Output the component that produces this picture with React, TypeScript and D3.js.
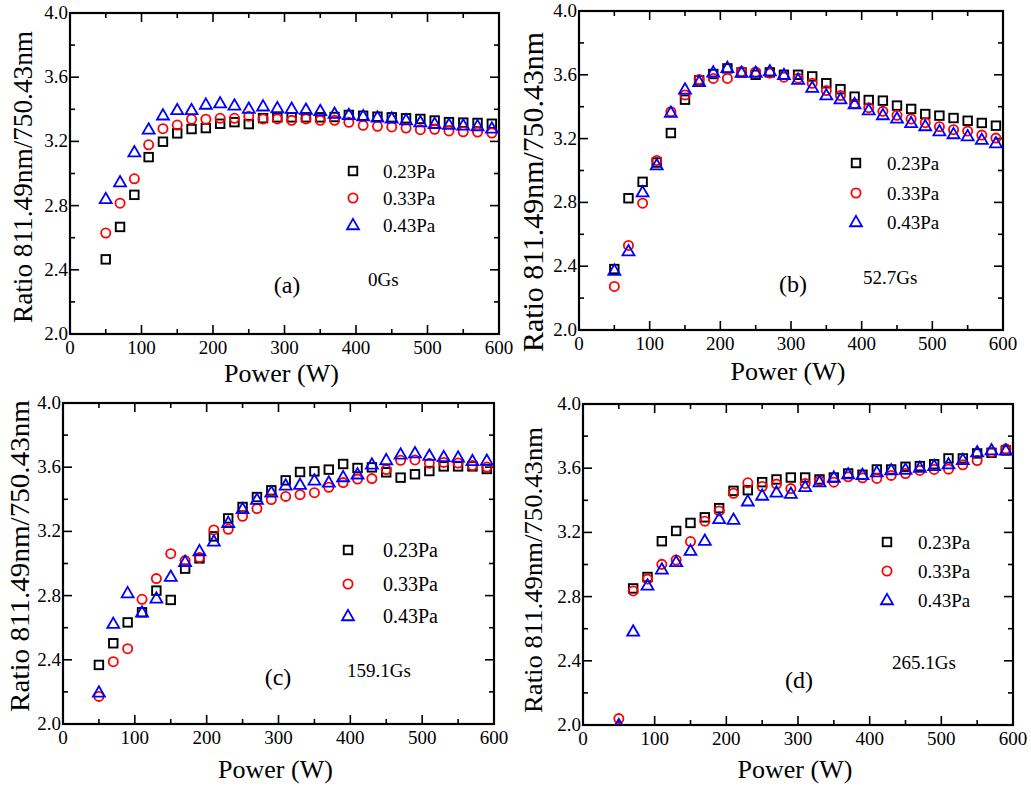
import React from "react";
import * as d3 from "d3";

const power = [50, 70, 90, 110, 130, 150, 170, 190, 210, 230, 250, 270, 290, 310, 330, 350, 370, 390, 410, 430, 450, 470, 490, 510, 530, 550, 570, 590];
const seriesNames = ["0.23Pa", "0.33Pa", "0.43Pa"];
const yTickLabels = ["2.0", "2.4", "2.8", "3.2", "3.6", "4.0"];
const xTickLabels = ["0", "100", "200", "300", "400", "500", "600"];

// Panel (a) 0Gs
const a023 = [2.465, 2.667, 2.867, 3.102, 3.198, 3.25, 3.277, 3.283, 3.31, 3.32, 3.308, 3.345, 3.35, 3.35, 3.35, 3.35, 3.352, 3.365, 3.36, 3.354, 3.35, 3.344, 3.34, 3.33, 3.32, 3.317, 3.315, 3.31];
const a033 = [2.629, 2.815, 2.967, 3.179, 3.279, 3.302, 3.338, 3.338, 3.344, 3.344, 3.356, 3.34, 3.34, 3.331, 3.34, 3.331, 3.331, 3.319, 3.3, 3.294, 3.29, 3.283, 3.273, 3.275, 3.265, 3.26, 3.258, 3.252];
const a043 = [2.842, 2.946, 3.133, 3.275, 3.363, 3.396, 3.396, 3.43, 3.438, 3.425, 3.404, 3.419, 3.408, 3.404, 3.398, 3.39, 3.373, 3.365, 3.358, 3.35, 3.344, 3.333, 3.32, 3.31, 3.304, 3.3, 3.296, 3.281];

// Panel (b) 52.7Gs
const b023 = [2.382, 2.826, 2.929, 3.05, 3.235, 3.444, 3.565, 3.605, 3.64, 3.615, 3.6, 3.615, 3.6, 3.6, 3.59, 3.547, 3.51, 3.463, 3.442, 3.438, 3.407, 3.386, 3.354, 3.344, 3.329, 3.312, 3.298, 3.281];
const b033 = [2.273, 2.53, 2.795, 3.063, 3.369, 3.474, 3.57, 3.577, 3.577, 3.62, 3.618, 3.61, 3.585, 3.579, 3.547, 3.501, 3.47, 3.419, 3.394, 3.371, 3.346, 3.323, 3.3, 3.275, 3.256, 3.247, 3.222, 3.203];
const b043 = [2.373, 2.495, 2.864, 3.034, 3.363, 3.509, 3.556, 3.616, 3.644, 3.614, 3.614, 3.623, 3.6, 3.57, 3.52, 3.472, 3.447, 3.417, 3.379, 3.348, 3.327, 3.298, 3.279, 3.247, 3.229, 3.216, 3.193, 3.172];

// Panel (c) 159.1Gs
const c023 = [2.368, 2.503, 2.633, 2.696, 2.831, 2.773, 2.968, 3.032, 3.169, 3.281, 3.352, 3.414, 3.456, 3.518, 3.57, 3.574, 3.585, 3.62, 3.595, 3.599, 3.568, 3.535, 3.556, 3.576, 3.605, 3.605, 3.605, 3.589];
const c033 = [2.172, 2.388, 2.469, 2.777, 2.906, 3.061, 3.018, 3.038, 3.209, 3.213, 3.294, 3.342, 3.398, 3.418, 3.429, 3.441, 3.475, 3.504, 3.526, 3.529, 3.585, 3.643, 3.645, 3.624, 3.63, 3.626, 3.61, 3.601];
const c043 = [2.197, 2.625, 2.816, 2.696, 2.783, 2.918, 3.011, 3.078, 3.138, 3.254, 3.34, 3.398, 3.443, 3.487, 3.491, 3.518, 3.506, 3.539, 3.556, 3.618, 3.645, 3.68, 3.688, 3.672, 3.664, 3.661, 3.639, 3.641];

// Panel (d) 265.1Gs
const d023 = [null, 2.851, 2.922, 3.145, 3.209, 3.259, 3.294, 3.351, 3.459, 3.463, 3.513, 3.53, 3.542, 3.542, 3.53, 3.542, 3.567, 3.559, 3.592, 3.592, 3.609, 3.613, 3.625, 3.661, 3.661, 3.692, 3.696, 3.711];
const d033 = [2.04, 2.835, 2.909, 3.001, 3.028, 3.143, 3.27, 3.334, 3.444, 3.509, 3.486, 3.501, 3.473, 3.505, 3.521, 3.513, 3.546, 3.54, 3.536, 3.555, 3.567, 3.586, 3.592, 3.594, 3.621, 3.648, 3.7, 3.721];
const d043 = [2.0, 2.583, 2.87, 2.97, 3.016, 3.086, 3.149, 3.284, 3.28, 3.394, 3.43, 3.45, 3.442, 3.484, 3.513, 3.542, 3.563, 3.559, 3.575, 3.588, 3.592, 3.603, 3.615, 3.625, 3.652, 3.7, 3.713, 3.711];

const FONT = "Times New Roman, Liberation Serif, Times, serif";

type Panel = {
  id: string;
  letter: string;
  field: string;
  data: (number | null)[][];
  left: number; right: number; top: number; bottom: number;
  ylab: { x: number; y: number; len: number; size: number };
  xlabY: number;
  legend: { mx: number; tx: number; ys: number[]; size: number };
  letterPos: { x: number; y: number };
  fieldPos: { x: number; y: number };
};

const panels: Panel[] = [
  {
    id: "a", letter: "(a)", field: "0Gs", data: [a023, a033, a043],
    left: 70, right: 499, top: 13, bottom: 334,
    ylab: { x: 23, y: 177, len: 292, size: 27 }, xlabY: 382,
    legend: { mx: 353, tx: 383, ys: [171, 198, 225], size: 19 },
    letterPos: { x: 287, y: 293 }, fieldPos: { x: 368, y: 286 },
  },
  {
    id: "b", letter: "(b)", field: "52.7Gs", data: [b023, b033, b043],
    left: 579, right: 1003, top: 11, bottom: 330,
    ylab: { x: 533, y: 192, len: 320, size: 29 }, xlabY: 380,
    legend: { mx: 856, tx: 887, ys: [163, 193, 222], size: 19 },
    letterPos: { x: 793, y: 292 }, fieldPos: { x: 863, y: 284 },
  },
  {
    id: "c", letter: "(c)", field: "159.1Gs", data: [c023, c033, c043],
    left: 63, right: 494, top: 403, bottom: 724,
    ylab: { x: 20, y: 556, len: 312, size: 28 }, xlabY: 778,
    legend: { mx: 348, tx: 383, ys: [550, 584, 616], size: 20 },
    letterPos: { x: 278, y: 685 }, fieldPos: { x: 347, y: 677 },
  },
  {
    id: "d", letter: "(d)", field: "265.1Gs", data: [d023, d033, d043],
    left: 583, right: 1013, top: 404, bottom: 725,
    ylab: { x: 533, y: 570, len: 286, size: 26 }, xlabY: 778,
    legend: { mx: 887, tx: 918, ys: [542, 571, 600], size: 19 },
    letterPos: { x: 799, y: 688 }, fieldPos: { x: 892, y: 669 },
  },
];

const colors = ["#000000", "#ff0000", "#0000ff"];

function Marker({ kind, x, y }: { kind: number; x: number; y: number }) {
  if (kind === 0) {
    const s = 8.5;
    return <rect x={x - s / 2} y={y - s / 2} width={s} height={s} fill="none" stroke={colors[0]} strokeWidth={1.9} />;
  }
  if (kind === 1) {
    return <circle cx={x} cy={y} r={4.6} fill="none" stroke={colors[1]} strokeWidth={1.8} />;
  }
  const tri = d3.symbol().type(d3.symbolTriangle).size(62)();
  return <path d={tri || ""} transform={`translate(${x},${y + 0.8})`} fill="none" stroke={colors[2]} strokeWidth={1.8} />;
}

function PanelView({ p }: { p: Panel }) {
  const x = d3.scaleLinear().domain([0, 600]).range([p.left, p.right]);
  const y = d3.scaleLinear().domain([2, 4]).range([p.bottom, p.top]);
  const xMajor = d3.range(0, 601, 100);
  const xMinor = d3.range(50, 600, 100);
  const yMajor = yTickLabels.map(Number);
  const yMinor = d3.range(2.2, 4, 0.4);
  const MAJ = 9, MIN = 5;
  const clipId = `clip-${p.id}`;
  const txt = { fontFamily: FONT } as React.CSSProperties;
  return (
    <g>
      <defs>
        <clipPath id={clipId}>
          <rect x={p.left} y={p.top} width={p.right - p.left} height={p.bottom - p.top} />
        </clipPath>
      </defs>
      <g stroke="#000" strokeWidth={1.6}>
        {xMajor.map((v) => (
          <g key={`xM${v}`}>
            <line x1={x(v)} x2={x(v)} y1={p.bottom} y2={p.bottom - MAJ} />
            <line x1={x(v)} x2={x(v)} y1={p.top} y2={p.top + MAJ} />
          </g>
        ))}
        {xMinor.map((v) => (
          <g key={`xm${v}`}>
            <line x1={x(v)} x2={x(v)} y1={p.bottom} y2={p.bottom - MIN} />
            <line x1={x(v)} x2={x(v)} y1={p.top} y2={p.top + MIN} />
          </g>
        ))}
        {yMajor.map((v) => (
          <g key={`yM${v}`}>
            <line x1={p.left} x2={p.left + MAJ} y1={y(v)} y2={y(v)} />
            <line x1={p.right} x2={p.right - MAJ} y1={y(v)} y2={y(v)} />
          </g>
        ))}
        {yMinor.map((v) => (
          <g key={`ym${v.toFixed(1)}`}>
            <line x1={p.left} x2={p.left + MIN} y1={y(v)} y2={y(v)} />
            <line x1={p.right} x2={p.right - MIN} y1={y(v)} y2={y(v)} />
          </g>
        ))}
      </g>
      <rect x={p.left} y={p.top} width={p.right - p.left} height={p.bottom - p.top} fill="none" stroke="#000" strokeWidth={2.2} />
      <g style={txt} fontSize={19} fill="#000">
        {xTickLabels.map((t) => (
          <text key={`xl${t}`} x={x(Number(t))} y={p.bottom + 20} textAnchor="middle">{t}</text>
        ))}
        {yTickLabels.map((t) => (
          <text key={`yl${t}`} x={p.left - 2} y={y(Number(t)) + 6} textAnchor="end">{t}</text>
        ))}
      </g>
      <text x={(p.left + p.right) / 2 - 3} y={p.xlabY} textAnchor="middle" style={txt} fontSize={26}>Power (W)</text>
      <text
        transform={`translate(${p.ylab.x + p.ylab.size * 0.33},${p.ylab.y}) rotate(-90)`}
        textAnchor="middle"
        style={txt}
        fontSize={p.ylab.size}
        textLength={p.ylab.len}
        lengthAdjust="spacingAndGlyphs"
      >Ratio 811.49nm/750.43nm</text>
      <g clipPath={`url(#${clipId})`}>
        {p.data.map((series, si) =>
          series.map((v, i) =>
            v == null ? null : <Marker key={`${si}-${i}`} kind={si} x={x(power[i])} y={y(v)} />
          )
        )}
      </g>
      {seriesNames.map((name, si) => (
        <g key={name}>
          <Marker kind={si} x={p.legend.mx} y={p.legend.ys[si]} />
          <text x={p.legend.tx} y={p.legend.ys[si] + 7} style={txt} fontSize={p.legend.size}>{name}</text>
        </g>
      ))}
      <text x={p.letterPos.x} y={p.letterPos.y} textAnchor="middle" style={txt} fontSize={24}>{p.letter}</text>
      <text x={p.fieldPos.x} y={p.fieldPos.y} style={txt} fontSize={19}>{p.field}</text>
    </g>
  );
}

export default function App() {
  return (
    <svg width={1031} height={787} style={{ position: "absolute", left: 0, top: 0, background: "#fff" }}>
      <rect width={1031} height={787} fill="#fff" />
      {panels.map((p) => (
        <PanelView key={p.id} p={p} />
      ))}
    </svg>
  );
}
